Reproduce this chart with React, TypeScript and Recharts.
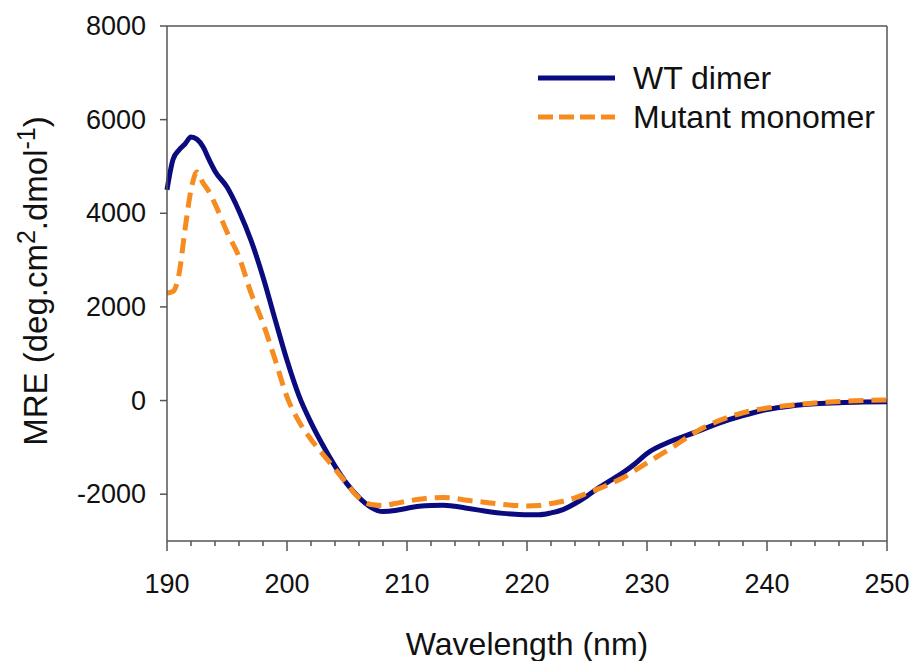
import React from 'react'
import {
  LineChart,
  Line,
  XAxis,
  YAxis,
  ReferenceLine,
  Legend,
} from 'recharts'

// wavelength grid (nm)
const wavelength = [
  190, 190.5, 191, 191.5, 192, 192.5, 193, 193.5, 194, 195, 196, 197, 198, 199,
  200, 201, 202, 203, 204, 205, 206, 207, 208, 209, 210, 211, 212, 213, 214, 215,
  216, 217, 218, 219, 220, 221, 222, 223, 224, 225, 226, 227, 228, 229, 230,
  232, 234, 236, 238, 240, 242, 244, 246, 248, 250,
]

// MRE, deg.cm2.dmol-1
const wtDimer = [
  4500, 5150, 5350, 5480, 5630, 5580, 5420, 5150, 4900, 4560, 4050, 3420, 2640, 1740,
  860, 100, -470, -960, -1400, -1780, -2070, -2280, -2370, -2350, -2300, -2260, -2240, -2235, -2260, -2300,
  -2340, -2380, -2410, -2430, -2440, -2440, -2400, -2330, -2200, -2040, -1860, -1700, -1540, -1350, -1130,
  -870, -680, -480, -320, -190, -115, -70, -45, -32, -26,
]

const mutantMonomer = [
  2290, 2330, 2700, 3650, 4500, 4880, 4650, 4460, 4200, 3600, 3070, 2300, 1650, 880,
  80, -450, -830, -1150, -1460, -1780, -2080, -2220, -2240, -2200, -2150, -2110, -2080, -2070, -2090, -2130,
  -2160, -2190, -2220, -2240, -2250, -2240, -2200, -2150, -2080, -1980, -1880, -1770, -1650, -1490, -1330,
  -1020, -680, -430, -260, -160, -100, -50, -20, 0, 10,
]

const xTicks = [
  190, 192, 194, 196, 198, 200, 202, 204, 206, 208, 210, 212, 214, 216, 218, 220,
  222, 224, 226, 228, 230, 232, 234, 236, 238, 240, 242, 244, 246, 248, 250,
]
const yTicks = [-2000, 0, 2000, 4000, 6000, 8000]

const data = wavelength.map((w, i) => ({
  wavelength: w,
  wt: wtDimer[i],
  mutant: mutantMonomer[i],
}))

const FONT = 'Arial, "Liberation Sans", sans-serif'
const AXIS = '#555'
const NAVY = '#0b0b80'
const ORANGE = '#f68b1f'

const XTick = ({ x, y, payload }: any) => {
  const major = payload.value % 10 === 0
  return (
    <g>
      <line x1={x} x2={x} y1={y} y2={y + (major ? 10 : 5)} stroke={AXIS} strokeWidth={1.5} />
      {major && (
        <text x={x} y={y + 52} textAnchor="middle" fontSize={27} fontFamily={FONT} fill="#111">
          {payload.value}
        </text>
      )}
    </g>
  )
}

const YTick = ({ x, y, payload }: any) => (
  <g>
    <line x1={x - 7} x2={x} y1={y} y2={y} stroke={AXIS} strokeWidth={1.5} />
    <text x={x - 21} y={y + 9} textAnchor="end" fontSize={27} fontFamily={FONT} fill="#111">
      {payload.value}
    </text>
  </g>
)

const LegendBox = () => (
  <svg width={380} height={90}>
    <line x1={8} x2={85} y1={23} y2={23} stroke={NAVY} strokeWidth={5} />
    <text x={103} y={34} fontSize={32} fontFamily={FONT} fill="#111">WT dimer</text>
    <line x1={8} x2={85} y1={62} y2={62} stroke={ORANGE} strokeWidth={5} strokeDasharray="15 6" />
    <text x={103} y={73} fontSize={32} fontFamily={FONT} fill="#111">Mutant monomer</text>
  </svg>
)

export default function App() {
  return (
    <div style={{ position: 'absolute', left: 0, top: 0, background: '#fff' }}>
      <LineChart
        width={916}
        height={661}
        data={data}
        margin={{ top: 26, right: 29, bottom: 0, left: 0 }}
      >
        <XAxis
          dataKey="wavelength"
          type="number"
          domain={[190, 250]}
          ticks={xTicks}
          interval={0}
          height={120}
          tickSize={0}
          tickMargin={0}
          tickLine={false}
          axisLine={{ stroke: AXIS, strokeWidth: 1.5 }}
          tick={<XTick />}
          label={{
            content: () => (
              <text x={527} y={655} textAnchor="middle" fontSize={32} fontFamily={FONT} fill="#111">
                Wavelength (nm)
              </text>
            ),
          }}
        />
        <YAxis
          type="number"
          domain={[-3000, 8000]}
          ticks={yTicks}
          interval={0}
          width={167}
          tickSize={0}
          tickMargin={0}
          tickLine={false}
          axisLine={{ stroke: AXIS, strokeWidth: 1.5 }}
          tick={<YTick />}
          label={{
            content: () => (
              <text
                x={47}
                y={281}
                transform="rotate(-90, 47, 281)"
                textAnchor="middle"
                fontSize={33}
                fontFamily={FONT}
                fill="#111"
              >
                MRE (deg.cm
                <tspan dy={-12} fontSize={25}>2</tspan>
                <tspan dy={12}>.dmol</tspan>
                <tspan dy={-12} fontSize={25}>-1</tspan>
                <tspan dy={12}>)</tspan>
              </text>
            ),
          }}
        />
        <ReferenceLine y={8000} stroke={AXIS} strokeWidth={1.5} />
        <ReferenceLine x={250} stroke={AXIS} strokeWidth={1.5} />
        <Legend
          layout="vertical"
          align="center"
          verticalAlign="middle"
          wrapperStyle={{ top: 55, left: 530, width: 380 }}
          content={() => <LegendBox />}
        />
        <Line
          dataKey="wt"
          name="WT dimer"
          type="monotone"
          stroke={NAVY}
          strokeWidth={5}
          dot={false}
          isAnimationActive={false}
        />
        <Line
          dataKey="mutant"
          name="Mutant monomer"
          type="monotone"
          stroke={ORANGE}
          strokeWidth={5}
          strokeDasharray="15 8"
          dot={false}
          isAnimationActive={false}
        />
      </LineChart>
    </div>
  )
}
